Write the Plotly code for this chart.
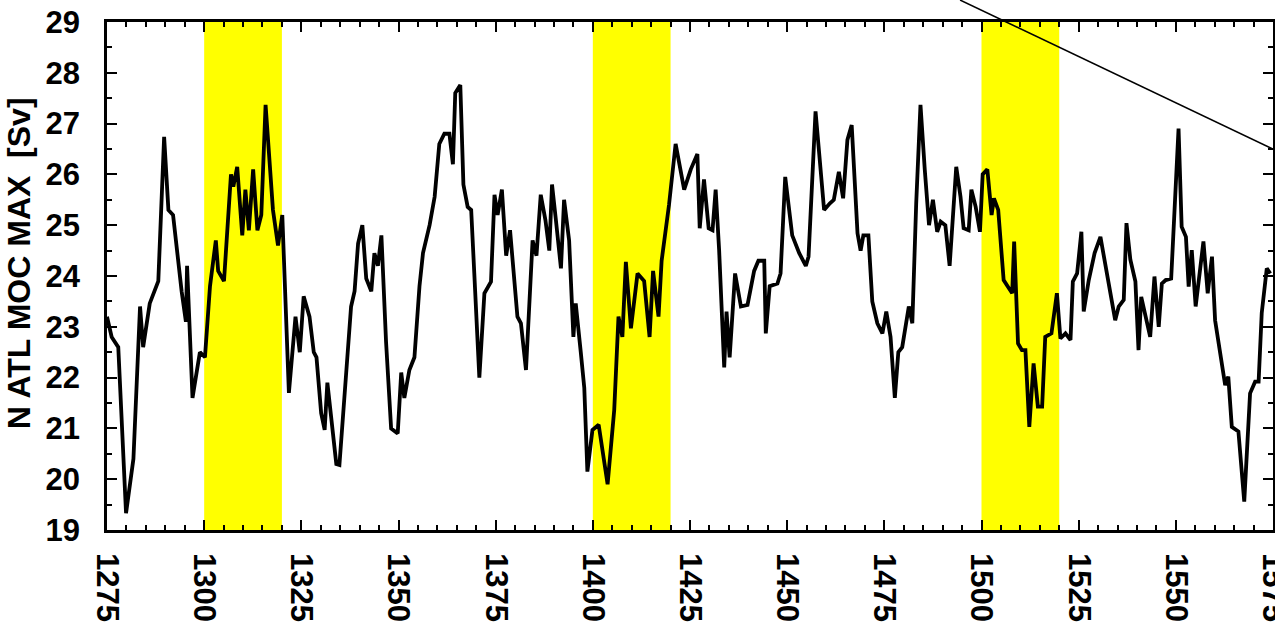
import plotly.graph_objects as go

# Maximum of the North Atlantic meridional overturning circulation (Sv)
years = [
    1275.0, 1276.2, 1277.9, 1279.9, 1281.8, 1283.5, 1284.3, 1286.0, 1288.2, 1289.7,
    1290.8, 1292.0, 1294.2, 1295.3, 1295.6, 1297.0, 1298.9, 1300.2, 1301.5, 1303.0,
    1303.6, 1305.1, 1306.9, 1307.5, 1308.5, 1309.8, 1310.6, 1311.5, 1312.6, 1313.7,
    1314.7, 1315.8, 1317.7, 1319.0, 1320.1, 1321.8, 1323.5, 1324.6, 1325.6, 1327.1,
    1328.2, 1328.9, 1330.1, 1331.0, 1331.7, 1332.7, 1334.0, 1334.8, 1336.1, 1337.8,
    1338.7, 1339.6, 1340.7, 1341.7, 1343.0, 1343.8, 1344.7, 1345.6, 1346.8, 1348.1,
    1349.8, 1350.7, 1351.5, 1352.8, 1354.1, 1355.4, 1356.3, 1358.0, 1359.3, 1360.5,
    1361.8, 1363.1, 1364.0, 1364.6, 1365.9, 1366.7, 1367.8, 1368.7, 1369.5, 1370.8,
    1372.1, 1373.8, 1374.7, 1375.5, 1376.6, 1377.7, 1378.7, 1380.6, 1381.5, 1382.8,
    1384.5, 1385.5, 1386.6, 1387.8, 1388.8, 1389.5, 1390.5, 1391.8, 1392.6, 1393.9,
    1395.0, 1395.6, 1396.9, 1397.8, 1398.6, 1399.9, 1401.5, 1403.8, 1405.5, 1406.6,
    1407.6, 1408.5, 1409.8, 1411.5, 1413.2, 1414.6, 1415.5, 1416.9, 1417.7, 1419.6,
    1421.3, 1423.5, 1425.2, 1426.9, 1427.5, 1428.6, 1429.8, 1430.8, 1431.6, 1432.5,
    1433.8, 1434.4, 1435.2, 1436.6, 1438.1, 1439.8, 1441.5, 1442.6, 1444.1, 1444.5,
    1445.5, 1447.5, 1448.3, 1449.5, 1451.3, 1453.1, 1454.8, 1455.5, 1457.3, 1459.5,
    1461.0, 1462.0, 1463.3, 1464.4, 1465.5, 1466.6, 1468.1, 1468.9, 1469.6, 1470.9,
    1471.9, 1473.2, 1474.5, 1475.5, 1476.6, 1477.7, 1478.6, 1479.6, 1481.3, 1482.2,
    1483.2, 1484.3, 1485.4, 1486.5, 1487.5, 1488.6, 1489.5, 1490.7, 1491.8, 1493.5,
    1494.6, 1495.4, 1496.7, 1497.4, 1498.5, 1499.6, 1500.3, 1501.5, 1502.6, 1503.2,
    1504.3, 1505.7, 1506.8, 1507.9, 1508.4, 1509.4, 1510.4, 1511.3, 1512.3, 1513.4,
    1514.5, 1515.6, 1516.4, 1518.0, 1519.4, 1520.3, 1521.6, 1522.9, 1523.5, 1524.6,
    1525.7, 1526.3, 1527.6, 1529.1, 1530.6, 1532.3, 1533.6, 1534.4, 1535.3, 1536.6,
    1537.3, 1538.3, 1539.6, 1540.4, 1541.1, 1542.1, 1543.4, 1544.5, 1545.6, 1546.4,
    1547.4, 1548.8, 1549.7, 1550.7, 1551.5, 1552.6, 1553.3, 1554.1, 1555.1, 1556.3,
    1557.1, 1558.2, 1559.3, 1560.1, 1561.4, 1562.7, 1563.5, 1564.4, 1566.1, 1567.6,
    1569.1, 1570.4, 1571.3, 1572.1, 1573.4, 1574.3,
]
moc_max = [
    23.2, 22.8, 22.6, 19.33, 20.4, 23.4, 22.6, 23.46, 23.9, 26.74,
    25.3, 25.2, 23.7, 23.1, 24.2, 21.6, 22.5, 22.4, 23.8, 24.7,
    24.1, 23.9, 26.0, 25.76, 26.15, 24.8, 25.7, 24.9, 26.1, 24.9,
    25.2, 27.37, 25.3, 24.6, 25.2, 21.7, 23.2, 22.5, 23.6, 23.2,
    22.5, 22.4, 21.3, 20.97, 21.9, 21.2, 20.3, 20.28, 21.7, 23.4,
    23.7, 24.64, 25.0, 23.95, 23.7, 24.45, 24.2, 24.8, 22.7, 21.0,
    20.9, 22.1, 21.6, 22.15, 22.4, 23.8, 24.45, 25.0, 25.56, 26.6,
    26.8, 26.8, 26.2, 27.6, 27.76, 25.8, 25.36, 25.3, 24.05, 22.0,
    23.66, 23.89, 25.6, 25.2, 25.7, 24.4, 24.9, 23.2, 23.07, 22.15,
    24.7, 24.4, 25.6, 25.1, 24.5, 25.8, 25.1, 24.15, 25.5, 24.7,
    22.8, 23.46, 22.5, 21.8, 20.15, 20.97, 21.07, 19.9, 21.36, 23.2,
    22.8, 24.28, 22.97, 24.05, 23.9, 22.8, 24.1, 23.2, 24.3, 25.4,
    26.6, 25.7, 26.1, 26.4, 24.94, 25.9, 24.94, 24.9, 25.7, 24.5,
    22.2, 23.3, 22.4, 24.05, 23.4, 23.43, 24.1, 24.3, 24.3, 22.87,
    23.8, 23.85, 24.05, 25.95, 24.8, 24.45, 24.2, 24.38, 27.24, 25.3,
    25.43, 25.5, 26.05, 25.53, 26.68, 26.97, 24.84, 24.5, 24.8, 24.8,
    23.5, 23.07, 22.87, 23.3, 22.8, 21.6, 22.5, 22.6, 23.4, 23.07,
    25.43, 27.37, 26.1, 25.0, 25.5, 24.87, 25.07, 25.0, 24.2, 26.15,
    25.56, 24.94, 24.9, 25.7, 25.36, 24.87, 26.0, 26.1, 25.2, 25.53,
    25.3, 23.92, 23.79, 23.66, 24.68, 22.67, 22.54, 22.54, 21.03, 22.28,
    21.43, 21.43, 22.8, 22.87, 23.66, 22.77, 22.87, 22.74, 23.89, 24.05,
    24.87, 23.3, 23.92, 24.45, 24.77, 23.99, 23.46, 23.13, 23.4, 23.53,
    25.04, 24.32, 23.89, 22.54, 23.59, 23.27, 22.8, 23.99, 23.0, 23.85,
    23.92, 23.95, 25.5, 26.9, 24.97, 24.77, 23.79, 24.51, 23.4, 24.12,
    24.68, 23.66, 24.38, 23.13, 22.54, 21.85, 22.02, 21.03, 20.94, 19.56,
    21.69, 21.92, 21.92, 23.27, 24.15, 24.05,
]

# Highlighted periods (start, end year)
band_starts = [1300, 1400, 1500]
band_ends = [1320, 1420, 1520]

x_ticks = list(range(1275, 1576, 25))
y_ticks = list(range(19, 30))

FONT = "Liberation Sans, Arial, Helvetica, sans-serif"

fig = go.Figure()
fig.add_trace(go.Scatter(
    x=years, y=moc_max, mode="lines",
    line=dict(color="black", width=3.8),
    hoverinfo="x+y", showlegend=False,
))

for x0, x1 in zip(band_starts, band_ends):
    fig.add_shape(type="rect", xref="x", yref="paper", x0=x0, x1=x1, y0=0, y1=1,
                  fillcolor="#ffff00", line=dict(width=0), layer="below")

# thin diagonal stroke crossing the upper-right corner
fig.add_shape(type="line", xref="paper", yref="paper",
              x0=0.7316, y0=1.0433, x1=1.0052, y1=0.7441,
              line=dict(color="black", width=1.5), layer="above")

axis_common = dict(
    showgrid=False, zeroline=False, automargin=False,
    showline=True, linecolor="black", linewidth=2.6, mirror="ticks",
    ticks="inside", tickcolor="black", tickwidth=2,
    tickfont=dict(family=FONT, size=31, color="black", weight="bold"),
    ticklabeloverflow="allow",
)

fig.update_xaxes(
    range=[1275, 1575], tickvals=x_ticks, ticktext=[str(v) for v in x_ticks],
    tickangle=90, ticklen=10, ticklabelstandoff=14,
    minor=dict(dtick=5, tick0=1275, ticks="inside", ticklen=5, tickwidth=2, tickcolor="black"),
    **axis_common,
)
fig.update_yaxes(
    range=[19, 29], tickvals=y_ticks, ticktext=[str(v) for v in y_ticks],
    ticklen=10, ticklabelstandoff=18,
    minor=dict(dtick=0.5, tick0=19, ticks="inside", ticklen=5, tickwidth=2, tickcolor="black"),
    **axis_common,
)

fig.add_annotation(
    text="N ATL MOC MAX\u00a0\u00a0[Sv]", textangle=-90,
    xref="paper", yref="paper", x=-0.0755, y=0.525,
    xanchor="center", yanchor="middle", showarrow=False,
    font=dict(family=FONT, size=32, color="black", weight="bold"),
)

fig.update_layout(
    width=1275, height=630,
    margin=dict(l=107, r=2, t=22, b=100, autoexpand=False),
    paper_bgcolor="white", plot_bgcolor="white",
)

fig.write_html("out.html")
